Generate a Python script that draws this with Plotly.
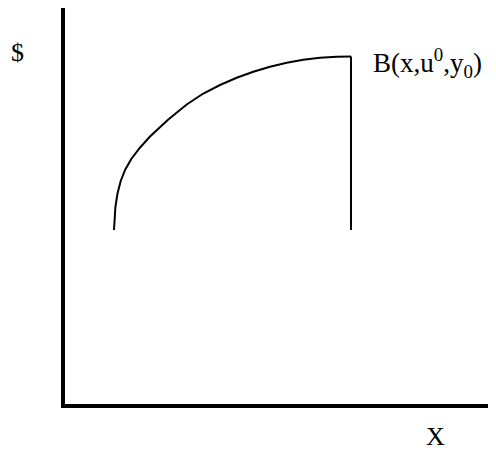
import plotly.graph_objects as go

# Curve B(x, u0, y0) (data units)
curve_x = [49, 49.4, 50.4, 52.4, 55.7, 60.3, 66.3, 74.7, 85, 103.3, 121.7, 138.3,
           155, 171.7, 188.3, 205, 221.7, 238.3, 255, 271.7, 286]
curve_y = [174, 184, 197, 210, 223, 234.5, 245, 256, 267.5, 284.5, 299.5, 310.5,
           319, 326.2, 332.2, 337.3, 341.3, 344.2, 346.2, 347.2, 347.5]
# vertical drop at the right end
drop_x = [286, 286]
drop_y = [347.5, 174]

fig = go.Figure()
fig.add_trace(go.Scatter(x=curve_x, y=curve_y, mode="lines",
                         line=dict(color="black", width=2, shape="linear"),
                         hoverinfo="skip"))
fig.add_trace(go.Scatter(x=drop_x, y=drop_y, mode="lines",
                         line=dict(color="black", width=2),
                         hoverinfo="skip"))

font = dict(family="Liberation Serif, Times New Roman, serif", size=26, color="black")
lab_font = dict(family="Liberation Serif, Times New Roman, serif", size=27, color="black")

# page body adds an 8px offset; figure is sized/margined to compensate
fig.update_layout(
    width=488, height=447,
    margin=dict(l=57, r=0, t=0, b=51),
    paper_bgcolor="white", plot_bgcolor="white",
    showlegend=False,
    xaxis=dict(range=[0, 431], showgrid=False, zeroline=False, showticklabels=False,
               ticks="", showline=True, linecolor="black", linewidth=4, fixedrange=True),
    yaxis=dict(range=[0, 396], showgrid=False, zeroline=False, showticklabels=False,
               ticks="", showline=True, linecolor="black", linewidth=4, fixedrange=True),
    annotations=[
        dict(text="$", xref="paper", yref="paper", x=(17 - 65) / 431, y=(404 - 52) / 396,
             showarrow=False, font=font, xanchor="center", yanchor="middle"),
        dict(text="X", xref="paper", yref="paper", x=(435 - 65) / 431, y=(404 - 437) / 396,
             showarrow=False, font=font, xanchor="center", yanchor="middle"),
        dict(text="B(x,u<sup>0</sup>,y<sub>0</sub>)", xref="paper", yref="paper",
             x=(371 - 65) / 431, y=(404 - 63) / 396,
             showarrow=False, font=lab_font, xanchor="left", yanchor="middle"),
    ],
)

fig.write_html("out.html")
